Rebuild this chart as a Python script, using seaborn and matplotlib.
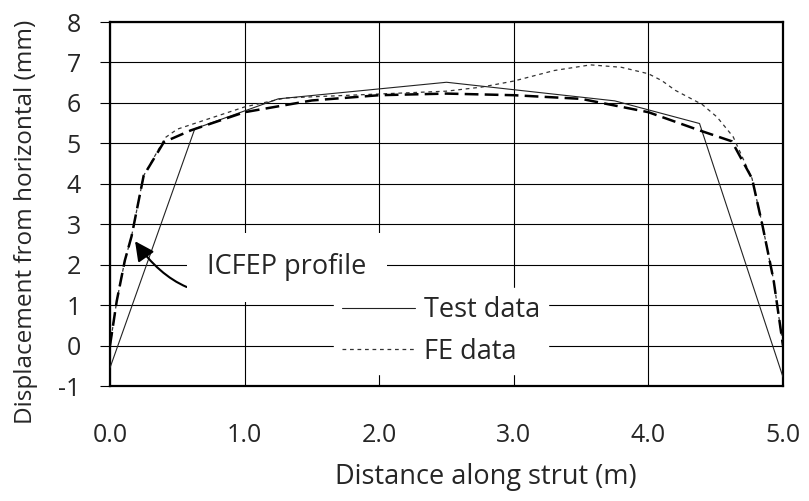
import matplotlib
matplotlib.use("Agg")
import matplotlib.pyplot as plt
import seaborn as sns
import pandas as pd

# ---- data ----
test_x = [0.0, 0.63, 1.25, 2.5, 3.75, 4.38, 5.0]
test_y = [-0.55, 5.36, 6.10, 6.51, 6.05, 5.49, -0.78]

fe_x = [0.0, 0.05, 0.11, 0.16, 0.25, 0.41, 0.5, 1.0, 1.3, 1.5, 2.0, 2.5, 2.76, 3.0,
        3.3, 3.57, 3.8, 4.0, 4.1, 4.2, 4.4, 4.51, 4.63, 4.77, 4.85, 4.93, 5.0]
fe_y = [0.0, 1.1, 2.1, 2.7, 4.2, 5.14, 5.35, 5.90, 6.12, 6.15, 6.22, 6.29, 6.39, 6.54,
        6.80, 6.94, 6.88, 6.72, 6.55, 6.31, 5.96, 5.65, 5.16, 4.13, 2.93, 1.62, 0.0]

icfep_x = [0.0, 0.05, 0.11, 0.16, 0.25, 0.40, 0.6, 1.0, 1.5, 2.0, 2.5, 3.0, 3.5,
           4.0, 4.38, 4.62, 4.77, 4.85, 4.93, 5.0]
icfep_y = [0.0, 1.1, 2.1, 2.7, 4.2, 5.03, 5.32, 5.77, 6.06, 6.19, 6.23, 6.19, 6.10,
           5.77, 5.32, 5.05, 4.13, 2.93, 1.62, 0.0]

x_ticks = [0.0, 1.0, 2.0, 3.0, 4.0, 5.0]
x_tick_labels = ["0.0", "1.0", "2.0", "3.0", "4.0", "5.0"]
y_ticks = [-1, 0, 1, 2, 3, 4, 5, 6, 7, 8]

sns.set_style("white")
plt.rcParams['font.family'] = ['Open Sans', 'DejaVu Sans']
plt.rcParams['axes.unicode_minus'] = False

FS_TICK = 18
FS_TEXT = 19.5

fig = plt.figure(figsize=(8.09, 5.01), dpi=100)
ax = fig.add_axes([110/809, 1 - 386/501, (783 - 110)/809, (386 - 22)/501])

test_df = pd.DataFrame({"x": test_x, "y": test_y})
fe_df = pd.DataFrame({"x": fe_x, "y": fe_y})
icfep_df = pd.DataFrame({"x": icfep_x, "y": icfep_y})

sns.lineplot(data=icfep_df, x="x", y="y", ax=ax, color="black", lw=1.8,
             linestyle=(0, (5.5, 2.5)), sort=False, label="_nolegend_", zorder=4)
sns.lineplot(data=fe_df, x="x", y="y", ax=ax, color="#333333", lw=0.9,
             linestyle=(0, (3, 3)), sort=False, label="FE data", zorder=3)
sns.lineplot(data=test_df, x="x", y="y", ax=ax, color="#222222", lw=0.8,
             sort=False, label="Test data", zorder=3)

ax.set_xlim(0, 5)
ax.set_ylim(-1, 8)
ax.set_xticks(x_ticks)
ax.set_xticklabels(x_tick_labels)
ax.set_yticks(y_ticks)
ax.grid(True, color="black", lw=0.8)
ax.set_axisbelow(True)
for s in ax.spines.values():
    s.set_color("black")
    s.set_linewidth(1.6)
ax.tick_params(axis="y", left=True, length=7, width=0.8, color="black",
               pad=14, labelsize=FS_TICK)
ax.tick_params(axis="x", bottom=False, length=0, pad=27, labelsize=FS_TICK)

ax.set_xlabel("Distance along strut (m)", fontsize=FS_TEXT, va="center")
ax.xaxis.set_label_coords(0.559, -0.25)
ax.set_ylabel("Displacement from horizontal (mm)", fontsize=17.5, va="center")
ax.yaxis.set_label_coords(-0.125, 0.45)

# legend (Test data first)
handles, labels = ax.get_legend_handles_labels()
order = [labels.index("Test data"), labels.index("FE data")]
leg = ax.legend([handles[i] for i in order], [labels[i] for i in order],
                loc="center", bbox_to_anchor=(441/809, 1 - 331/501),
                bbox_transform=fig.transFigure, frameon=True, fontsize=FS_TEXT,
                handlelength=2.7, handletextpad=0.3, borderpad=0.3,
                labelspacing=0.5, fancybox=False)
leg.get_frame().set_facecolor("white")
leg.get_frame().set_edgecolor("white")
leg.get_frame().set_alpha(1)
leg.set_zorder(5)

ax.annotate("ICFEP profile", xy=(0.186, 2.58), xytext=(0.72, 1.93),
            fontsize=FS_TEXT, ha="left", va="center",
            bbox=dict(boxstyle="square,pad=0.75", fc="white", ec="none"),
            arrowprops=dict(arrowstyle="-|>,head_length=0.6,head_width=0.3",
                            color="black", lw=1.5,
                            connectionstyle="arc3,rad=-0.5",
                            shrinkA=0, shrinkB=0),
            zorder=5)

fig.savefig("out.png", dpi=100)
